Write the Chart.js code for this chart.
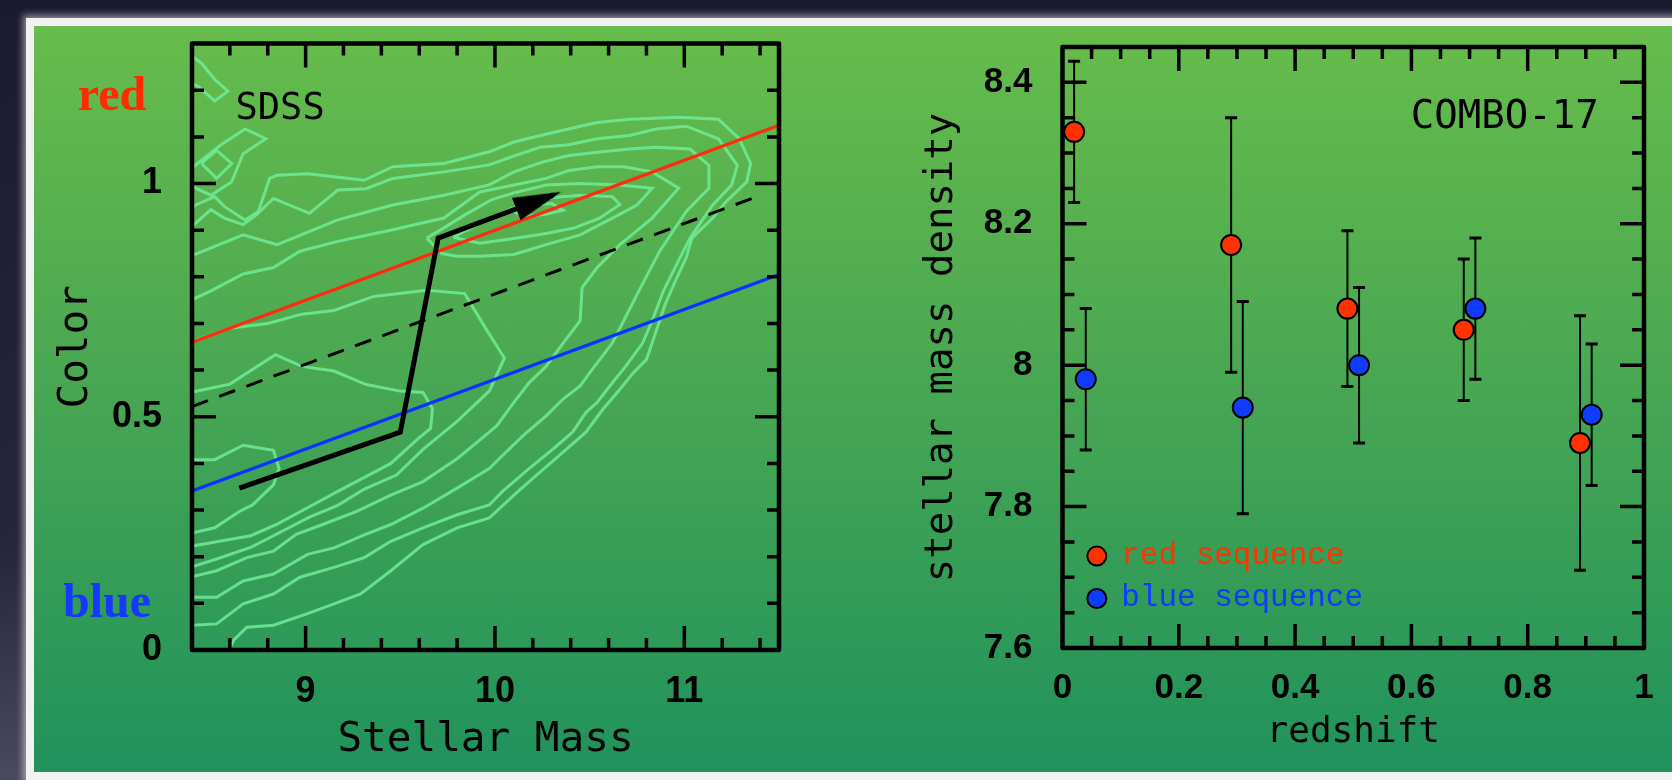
<!DOCTYPE html>
<html>
<head>
<meta charset="utf-8">
<script src="https://cdn.jsdelivr.net/npm/chart.js@4.4.0/dist/chart.umd.min.js"></script>
<style>
    html, body { margin: 0; padding: 0; }
    body {
        width: 1672px; height: 780px; overflow: hidden; position: relative;
        background: linear-gradient(to bottom, #1b1a31 0%, #26253d 70%, #4a4962 100%);
    }
    #panel {
        position: absolute; left: 34px; top: 26px; right: -30px; bottom: 8px;
        background: linear-gradient(to bottom, #67bc4b 0%, #47a653 50%, #20925c 100%);
        box-shadow: 0 0 0 8px #f2f2f2, 0 0 7px 11px rgba(255, 255, 255, 0.5);
    }
    canvas { position: absolute; top: 0; }
    #massChart { left: 0; }
    #zChart { left: 836px; }
</style>
</head>
<body>
<div id="panel"></div>
<canvas id="massChart" width="836" height="780"></canvas>
<canvas id="zChart" width="836" height="780"></canvas>
<script>
// ---- Left panel: SDSS colour vs stellar mass ----
const massTicks = [9, 10, 11];
const colorTicks = [0, 0.5, 1];

const redSeqLine = [[8.4, 0.66], [11.5, 1.125]];
const blueSeqLine = [[8.4, 0.341], [11.5, 0.805]];
const dividerLine = [[8.4, 0.522], [11.39, 0.973]];
const trackPath = [[8.65, 0.347], [9.5, 0.467], [9.7, 0.883], [10.31, 0.976]];

// density contours (mass, colour), outermost first
const contourA = [[8.60, 0.003], [8.62, 0.021], [8.69, 0.049], [8.83, 0.053], [9.01, 0.078], [9.15, 0.099], [9.29, 0.12], [9.45, 0.17], [9.62, 0.226], [9.80, 0.262], [9.97, 0.283], [10.10, 0.332], [10.20, 0.368], [10.36, 0.424], [10.48, 0.467], [10.57, 0.516], [10.66, 0.559], [10.73, 0.594], [10.80, 0.623], [10.83, 0.658], [10.90, 0.742], [10.96, 0.798], [11.01, 0.841], [11.04, 0.883], [11.15, 0.926], [11.22, 0.961], [11.33, 1.004], [11.35, 1.043], [11.29, 1.096], [11.18, 1.138], [10.97, 1.142], [10.71, 1.138], [10.54, 1.131], [10.45, 1.123], [10.24, 1.103], [10.10, 1.089], [9.97, 1.068], [9.73, 1.043], [9.46, 1.036], [9.31, 1.007], [9.01, 1.021], [8.85, 1.018], [8.81, 1.011], [8.75, 0.94], [8.68, 0.922], [8.57, 0.951], [8.52, 0.972], [8.42, 0.954], [8.39, 0.947]];
const contourB = [[8.39, 0.053], [8.53, 0.056], [8.67, 0.099], [8.83, 0.12], [8.97, 0.156], [9.15, 0.177], [9.31, 0.198], [9.45, 0.233], [9.62, 0.262], [9.80, 0.29], [9.97, 0.311], [10.04, 0.34], [10.18, 0.389], [10.31, 0.432], [10.41, 0.467], [10.48, 0.509], [10.54, 0.531], [10.62, 0.573], [10.69, 0.608], [10.78, 0.658], [10.83, 0.706], [10.89, 0.77], [10.96, 0.827], [11.03, 0.883], [11.15, 0.954], [11.25, 0.997], [11.28, 1.039], [11.18, 1.096], [11.01, 1.123], [10.85, 1.117], [10.71, 1.103], [10.54, 1.096], [10.39, 1.083], [10.24, 1.078], [10.10, 1.059], [9.97, 1.04], [9.73, 1.025], [9.46, 1.011], [9.32, 0.989], [9.17, 0.986], [9.02, 0.936], [8.83, 0.968], [8.74, 0.933], [8.67, 0.912], [8.57, 0.926], [8.50, 0.944], [8.43, 0.919], [8.39, 0.905]];
const contourC = [[8.39, 0.113], [8.53, 0.113], [8.67, 0.148], [8.83, 0.163], [9.01, 0.205], [9.15, 0.219], [9.31, 0.247], [9.45, 0.269], [9.62, 0.304], [9.80, 0.347], [9.97, 0.389], [10.04, 0.417], [10.15, 0.46], [10.27, 0.502], [10.36, 0.538], [10.45, 0.566], [10.50, 0.594], [10.62, 0.658], [10.69, 0.714], [10.76, 0.77], [10.87, 0.855], [11.01, 0.94], [11.13, 0.99], [11.13, 1.039], [11.03, 1.074], [10.85, 1.078], [10.71, 1.074], [10.54, 1.067], [10.39, 1.06], [10.25, 1.046], [10.10, 1.025], [9.97, 0.997], [9.73, 0.975], [9.46, 0.954], [9.17, 0.922], [8.85, 0.869], [8.67, 0.89], [8.39, 0.844]];
const contourD = [[8.39, 0.156], [8.53, 0.17], [8.69, 0.198], [8.83, 0.212], [8.95, 0.248], [9.09, 0.269], [9.27, 0.297], [9.45, 0.332], [9.62, 0.361], [9.80, 0.41], [9.97, 0.467], [10.01, 0.481], [10.10, 0.531], [10.18, 0.573], [10.27, 0.608], [10.36, 0.658], [10.45, 0.706], [10.46, 0.777], [10.54, 0.82], [10.66, 0.869], [10.83, 0.926], [10.97, 0.99], [10.83, 1.025], [10.68, 1.036], [10.54, 1.036], [10.39, 1.028], [10.27, 1.011], [10.10, 0.997], [9.92, 0.982], [9.73, 0.926], [9.46, 0.901], [9.17, 0.876], [8.97, 0.855], [8.83, 0.82], [8.67, 0.806], [8.50, 0.77], [8.39, 0.749]];
const contourE = [[8.39, 0.177], [8.53, 0.195], [8.71, 0.22], [8.83, 0.245], [9.02, 0.285], [9.17, 0.31], [9.31, 0.345], [9.48, 0.375], [9.62, 0.43], [9.80, 0.49], [9.97, 0.555], [10.05, 0.626], [9.95, 0.69], [9.84, 0.764], [9.64, 0.771], [9.36, 0.758], [9.15, 0.728], [8.98, 0.72], [8.80, 0.70], [8.60, 0.69], [8.39, 0.66]];
const contourF = [[8.39, 0.552], [8.60, 0.57], [8.84, 0.633], [8.98, 0.608], [9.15, 0.598], [9.32, 0.569], [9.50, 0.555], [9.62, 0.552], [9.67, 0.517], [9.66, 0.475], [9.60, 0.455], [9.45, 0.40], [9.31, 0.37], [9.17, 0.34], [9.01, 0.305], [8.85, 0.27], [8.71, 0.245], [8.53, 0.232], [8.39, 0.222]];
const contourG = [[8.39, 0.408], [8.52, 0.408], [8.67, 0.439], [8.83, 0.428], [8.86, 0.389], [8.83, 0.354], [8.72, 0.311], [8.65, 0.297], [8.52, 0.262], [8.39, 0.25]];
const contourH = [[9.64, 0.883], [9.73, 0.905], [9.85, 0.935], [9.98, 0.965], [10.10, 0.98], [10.27, 0.997], [10.45, 1.0], [10.66, 0.997], [10.83, 0.99], [10.75, 0.954], [10.62, 0.926], [10.45, 0.89], [10.27, 0.869], [10.10, 0.848], [9.92, 0.844], [9.80, 0.844], [9.72, 0.85], [9.64, 0.883]];
const contourI = [[9.78, 0.885], [9.92, 0.915], [10.08, 0.945], [10.25, 0.968], [10.45, 0.975], [10.62, 0.972], [10.66, 0.955], [10.55, 0.925], [10.42, 0.905], [10.27, 0.893], [10.10, 0.882], [9.92, 0.872], [9.78, 0.885]];
const contourJ = [[10.10, 0.94], [10.18, 0.953], [10.30, 0.957], [10.36, 0.943], [10.27, 0.934], [10.15, 0.93], [10.10, 0.94]];
const islandA = [[8.39, 1.276], [8.45, 1.258], [8.52, 1.223], [8.59, 1.198], [8.52, 1.177], [8.43, 1.209], [8.39, 1.216]];
const islandB = [[8.39, 1.03], [8.55, 1.082], [8.68, 1.117], [8.79, 1.096], [8.67, 1.064], [8.61, 1.004], [8.50, 0.975], [8.42, 0.99], [8.39, 1.0]];
const islandC = [[8.45, 1.043], [8.53, 1.071], [8.61, 1.043], [8.53, 1.011], [8.45, 1.043]];

// ---- Right panel: COMBO-17 stellar mass density vs redshift ----
const zTicks = [0, 0.2, 0.4, 0.6, 0.8, 1];
const densityTicks = [7.6, 7.8, 8, 8.2, 8.4];

const redZ = [0.02, 0.29, 0.49, 0.69, 0.89];
const redDensity = [8.33, 8.17, 8.08, 8.05, 7.89];
const redErr = [0.10, 0.18, 0.11, 0.10, 0.18];

const blueZ = [0.04, 0.31, 0.51, 0.71, 0.91];
const blueDensity = [7.98, 7.94, 8.00, 8.08, 7.93];
const blueErr = [0.10, 0.15, 0.11, 0.10, 0.10];

const RED = '#ff3300';
const BLUE = '#0f3bff';

const pts = arr => arr.map(([x, y]) => ({ x, y }));

// arrow head used as the point style at the end of the track
const arrowHead = document.createElement('canvas');
arrowHead.width = 84;
arrowHead.height = 26;
(function () {
    const ac = arrowHead.getContext('2d');
    ac.fillStyle = '#000';
    ac.beginPath();
    ac.moveTo(50, 13);
    ac.lineTo(2, 1);
    ac.lineTo(2, 25);
    ac.closePath();
    ac.fill();
})();

function makeAxis(o) {
    return {
        type: 'linear',
        min: o.min,
        max: o.max,
        afterBuildTicks: s => { s.ticks = o.ticks.map(v => ({ value: v })); },
        afterFit: s => { if (s.isHorizontal()) s.height = o.fit; else s.width = o.fit; },
        grid: { display: false },
        border: { display: false },
        ticks: {
            color: '#000',
            padding: o.tickPad,
            autoSkip: false,
            maxRotation: 0,
            font: { family: 'Liberation Sans', weight: 'bold', size: o.tickSize },
            callback: v => String(v)
        },
        title: {
            display: true,
            text: o.title,
            color: '#000',
            font: { family: 'DejaVu Sans Mono', size: o.titleSize },
            padding: o.titlePad
        }
    };
}

// frame box + inward ticks on all four sides
const frameTicks = {
    id: 'frameTicks',
    afterDatasetsDraw(chart, args, opts) {
        const { ctx, chartArea: a, scales: { x, y } } = chart;
        const near = (v, list) => list.some(t => Math.abs(t - v) < 1e-6);
        ctx.save();
        ctx.strokeStyle = '#000';
        ctx.lineWidth = 3.5;
        ctx.beginPath();
        for (let i = 1; ; i++) {
            const v = Math.round((x.min + i * opts.xStep) * 1000) / 1000;
            if (v >= x.max - 1e-6) break;
            const px = x.getPixelForValue(v);
            const len = near(v, opts.xMajor) ? 24 : 12;
            ctx.moveTo(px, a.bottom); ctx.lineTo(px, a.bottom - len);
            ctx.moveTo(px, a.top); ctx.lineTo(px, a.top + len);
        }
        for (let i = 1; ; i++) {
            const v = Math.round((y.min + i * opts.yStep) * 1000) / 1000;
            if (v >= y.max - 1e-6) break;
            const py = y.getPixelForValue(v);
            const len = near(v, opts.yMajor) ? 24 : 12;
            ctx.moveTo(a.left, py); ctx.lineTo(a.left + len, py);
            ctx.moveTo(a.right, py); ctx.lineTo(a.right - len, py);
        }
        ctx.stroke();
        ctx.lineWidth = 4.5;
        ctx.lineJoin = 'round';
        ctx.strokeRect(a.left, a.top, a.width, a.height);
        ctx.restore();
    }
};

// ---------------- left chart ----------------
const contourStyle = {
    showLine: true,
    pointRadius: 0,
    borderColor: 'rgba(112, 236, 150, 0.85)',
    borderWidth: 3,
    tension: 0,
    order: 5
};
const contours = [contourA, contourB, contourC, contourD, contourE, contourF, contourG,
    contourH, contourI, contourJ, islandA, islandB, islandC];

const massNotes = {
    id: 'massNotes',
    afterDraw(chart) {
        const { ctx, chartArea: a, scales: { x, y } } = chart;
        ctx.save();
        ctx.fillStyle = '#000';
        ctx.textAlign = 'left';
        ctx.textBaseline = 'alphabetic';
        ctx.font = '37px "DejaVu Sans Mono"';
        ctx.fillText('SDSS', x.getPixelForValue(8.63), y.getPixelForValue(1.138));
        ctx.textAlign = 'center';
        ctx.font = 'bold 48px "Liberation Serif"';
        ctx.fillStyle = '#ff2a00';
        ctx.fillText('red', a.left - 80, y.getPixelForValue(1.157));
        ctx.fillStyle = '#1438ff';
        ctx.fillText('blue', a.left - 85, y.getPixelForValue(0.07));
        ctx.restore();
    }
};

new Chart(document.getElementById('massChart'), {
    type: 'scatter',
    data: {
        datasets: [
            {
                data: pts(trackPath),
                showLine: true,
                borderColor: '#000',
                borderWidth: 5,
                borderJoinStyle: 'miter',
                pointRadius: c => c.dataIndex === trackPath.length - 1 ? 5 : 0,
                pointStyle: c => c.dataIndex === trackPath.length - 1 ? arrowHead : 'circle',
                pointRotation: -21,
                order: 0
            },
            { data: pts(redSeqLine), showLine: true, borderColor: '#ff2b0f', borderWidth: 3.2, pointRadius: 0, order: 1 },
            { data: pts(blueSeqLine), showLine: true, borderColor: '#0b32ff', borderWidth: 3.2, pointRadius: 0, order: 1 },
            { data: pts(dividerLine), showLine: true, borderColor: '#000', borderWidth: 3, borderDash: [17, 12], pointRadius: 0, order: 1 },
            ...contours.map(c => Object.assign({ data: pts(c) }, contourStyle))
        ]
    },
    options: {
        responsive: false,
        animation: false,
        events: [],
        layout: { padding: { top: 36, right: 57, bottom: 0, left: 0 } },
        scales: {
            x: makeAxis({ min: 8.4, max: 11.5, ticks: massTicks, fit: 130, tickPad: 12, tickSize: 36,
                title: 'Stellar Mass', titleSize: 41, titlePad: { top: 0, bottom: 15 } }),
            y: makeAxis({ min: 0, max: 1.3, ticks: colorTicks, fit: 192, tickPad: 22, tickSize: 36,
                title: 'Color', titleSize: 41, titlePad: { top: 52, bottom: 0 } })
        },
        plugins: {
            legend: { display: false },
            tooltip: { enabled: false },
            frameTicks: { xStep: 0.2, yStep: 0.1, xMajor: massTicks, yMajor: colorTicks }
        }
    },
    plugins: [frameTicks, massNotes]
});

// ---------------- right chart ----------------
const errorBars = {
    id: 'errorBars',
    beforeDatasetsDraw(chart) {
        const { ctx, scales: { x, y } } = chart;
        ctx.save();
        ctx.strokeStyle = '#000';
        [[redZ, redDensity, redErr], [blueZ, blueDensity, blueErr]].forEach(([zs, ds, es]) => {
            zs.forEach((z, i) => {
                const px = x.getPixelForValue(z);
                const top = y.getPixelForValue(ds[i] + es[i]);
                const bot = y.getPixelForValue(ds[i] - es[i]);
                ctx.lineWidth = 2;
                ctx.beginPath();
                ctx.moveTo(px, top); ctx.lineTo(px, bot);
                ctx.stroke();
                ctx.lineWidth = 3;
                ctx.beginPath();
                ctx.moveTo(px - 6, top); ctx.lineTo(px + 6, top);
                ctx.moveTo(px - 6, bot); ctx.lineTo(px + 6, bot);
                ctx.stroke();
            });
        });
        ctx.restore();
    }
};

const zNotes = {
    id: 'zNotes',
    afterDraw(chart) {
        const { ctx, scales: { x, y } } = chart;
        ctx.save();
        ctx.fillStyle = '#000';
        ctx.textBaseline = 'alphabetic';
        ctx.textAlign = 'right';
        ctx.font = '39px "DejaVu Sans Mono"';
        ctx.fillText('COMBO-17', x.getPixelForValue(0.922), y.getPixelForValue(8.335));

        // legend inside the plot, lower left
        const rows = [[7.73, 7.719], [7.67, 7.659]];
        chart.data.datasets.forEach((ds, i) => {
            const cx = x.getPixelForValue(0.059);
            const cy = y.getPixelForValue(rows[i][0]);
            ctx.beginPath();
            ctx.arc(cx, cy, 9.5, 0, Math.PI * 2);
            ctx.fillStyle = ds.pointBackgroundColor;
            ctx.fill();
            ctx.lineWidth = 2;
            ctx.strokeStyle = '#000';
            ctx.stroke();
            ctx.textAlign = 'left';
            ctx.font = '31px "Liberation Mono"';
            ctx.fillText(ds.label, x.getPixelForValue(0.101), y.getPixelForValue(rows[i][1]));
        });
        ctx.restore();
    }
};

new Chart(document.getElementById('zChart'), {
    type: 'scatter',
    data: {
        datasets: [
            {
                label: 'red sequence',
                data: redZ.map((z, i) => ({ x: z, y: redDensity[i] })),
                pointBackgroundColor: RED,
                pointBorderColor: '#000',
                pointBorderWidth: 2,
                pointRadius: 10
            },
            {
                label: 'blue sequence',
                data: blueZ.map((z, i) => ({ x: z, y: blueDensity[i] })),
                pointBackgroundColor: BLUE,
                pointBorderColor: '#000',
                pointBorderWidth: 2,
                pointRadius: 10
            }
        ]
    },
    options: {
        responsive: false,
        animation: false,
        events: [],
        layout: { padding: { top: 47, right: 28, bottom: 0, left: 0 } },
        scales: {
            x: makeAxis({ min: 0, max: 1, ticks: zTicks, fit: 132, tickPad: 11, tickSize: 35,
                title: 'redshift', titleSize: 36, titlePad: { top: 0, bottom: 26 } }),
            y: makeAxis({ min: 7.6, max: 8.45, ticks: densityTicks, fit: 226.5, tickPad: 22, tickSize: 35,
                title: 'stellar mass density', titleSize: 39, titlePad: { top: 82, bottom: 0 } })
        },
        plugins: {
            legend: { display: false },
            tooltip: { enabled: false },
            frameTicks: { xStep: 0.05, yStep: 0.05, xMajor: zTicks, yMajor: densityTicks }
        }
    },
    plugins: [errorBars, frameTicks, zNotes]
});
</script>
</body>
</html>
